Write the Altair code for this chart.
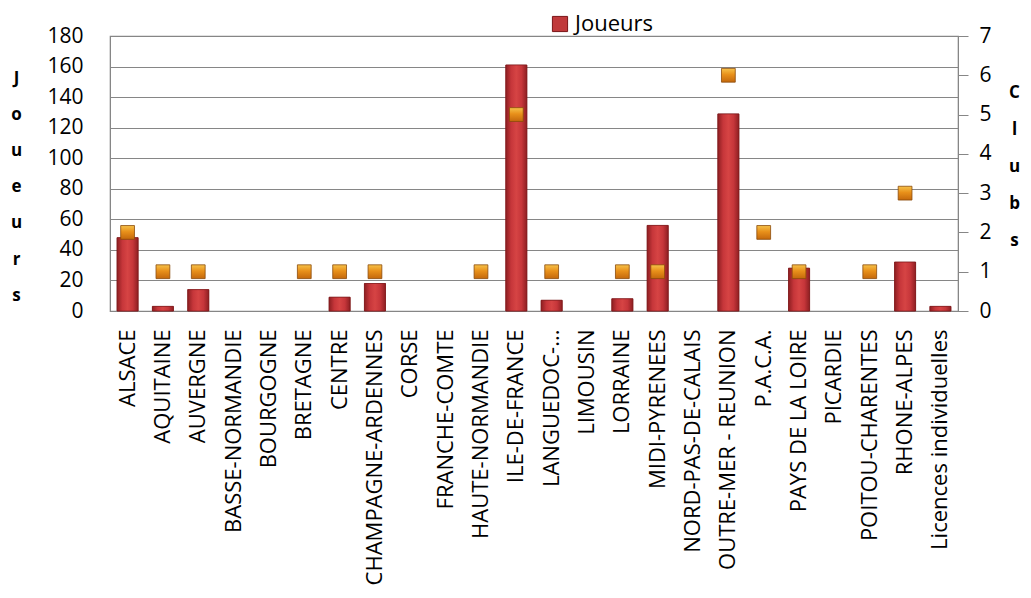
import altair as alt
import pandas as pd

regions = ["ALSACE", "AQUITAINE", "AUVERGNE", "BASSE-NORMANDIE", "BOURGOGNE", "BRETAGNE",
           "CENTRE", "CHAMPAGNE-ARDENNES", "CORSE", "FRANCHE-COMTE", "HAUTE-NORMANDIE",
           "ILE-DE-FRANCE", "LANGUEDOC-...", "LIMOUSIN", "LORRAINE", "MIDI-PYRENEES",
           "NORD-PAS-DE-CALAIS", "OUTRE-MER - REUNION", "P.A.C.A.", "PAYS DE LA LOIRE",
           "PICARDIE", "POITOU-CHARENTES", "RHONE-ALPES", "Licences individuelles"]
joueurs = [48, 3, 14, 0, 0, 0, 9, 18, 0, 0, 0, 161, 7, 0, 8, 56, 0, 129, 0, 28, 0, 0, 32, 3]
clubs = [2, 1, 1, 0, 0, 1, 1, 1, 0, 0, 1, 5, 1, 0, 1, 1, 0, 6, 2, 1, 0, 1, 3, 0]

df = pd.DataFrame({"region": regions, "joueurs": joueurs, "clubs": clubs,
                   "serie": ["Joueurs"] * len(regions)})

FONT = "Open Sans"
GRID = "#868686"

x_enc = alt.X("region:N", sort=regions,
              scale=alt.Scale(domain=regions, paddingInner=0.405, paddingOuter=0.2),
              axis=alt.Axis(title=None, labelAngle=-90, labelFont=FONT, labelFontSize=22,
                            labelColor="#000000", labelLimit=400, labelOverlap=False,
                            labelPadding=18, ticks=False, domainColor=GRID))

y_left = alt.Y("joueurs:Q", scale=alt.Scale(domain=[0, 180], nice=False),
               axis=alt.Axis(values=list(range(0, 181, 20)), grid=True, gridColor=GRID,
                             gridWidth=1.2, ticks=False, labelPadding=27, labelOverlap=False,
                             labelFont=FONT, labelFontSize=21, labelColor="#000000",
                             domainColor=GRID,
                             title=["J", "o", "u", "e", "u", "r", "s"], titleAngle=0,
                             titleX=-94, titleY=47, titleAlign="center",
                             titleBaseline="alphabetic", titleLineHeight=36.2,
                             titleFont=FONT, titleFontSize=17, titleFontWeight="bold",
                             titleColor="#000000"))

base = alt.Chart(df).transform_filter("datum.joueurs > 0").encode(x=x_enc, y=y_left)

bar_base = base.mark_bar(stroke="#7a1518", strokeWidth=0.6).encode(
    color=alt.Color("serie:N", scale=alt.Scale(range=["#C0393B"]),
                    legend=alt.Legend(title=None, orient="none", legendX=439, legendY=-23,
                                      labelFont=FONT, labelFontSize=22, labelColor="#000000",
                                      symbolType="square", symbolSize=230,
                                      symbolStrokeColor="#7a1518", symbolStrokeWidth=1,
                                      padding=0, labelOffset=4)),
)

bar_grad = base.mark_bar(
    color=alt.LinearGradient(
        gradient="linear", x1=0, x2=1, y1=0, y2=0,
        stops=[alt.GradientStop(color="#8E1F22", offset=0),
               alt.GradientStop(color="#C6363A", offset=0.25),
               alt.GradientStop(color="#D64444", offset=0.5),
               alt.GradientStop(color="#C6363A", offset=0.75),
               alt.GradientStop(color="#8E1F22", offset=1)]),
    stroke="#7a1518", strokeWidth=0.6,
)

bars = alt.layer(bar_base, bar_grad)

points = alt.Chart(df).transform_filter("datum.clubs > 0").mark_square(
    size=190, opacity=1, filled=True,
    color=alt.LinearGradient(
        gradient="linear", x1=0, x2=0, y1=0, y2=1,
        stops=[alt.GradientStop(color="#F6C24A", offset=0),
               alt.GradientStop(color="#E8901A", offset=0.45),
               alt.GradientStop(color="#C4680C", offset=1)]),
    stroke="#8A4A0A", strokeWidth=0.8,
).encode(
    x=x_enc,
    y=alt.Y("clubs:Q", scale=alt.Scale(domain=[0, 7], nice=False),
            axis=alt.Axis(orient="right", values=list(range(0, 8)), grid=False,
                          tickSize=10, tickColor=GRID, labelPadding=11, labelOverlap=False,
                          labelFont=FONT, labelFontSize=21, labelColor="#000000",
                          domainColor=GRID,
                          title=["C", "l", "u", "b", "s"], titleAngle=0,
                          titleX=56, titleY=61, titleAlign="center",
                          titleBaseline="alphabetic", titleLineHeight=37,
                          titleFont=FONT, titleFontSize=17, titleFontWeight="bold",
                          titleColor="#000000")),
)

chart = alt.layer(bars, points).resolve_scale(y="independent").properties(
    width=848, height=275,
    autosize=alt.AutoSizeParams(type="none"),
    padding={"left": 102, "top": 28, "right": 65, "bottom": 279},
    background="#ffffff",
).configure_view(stroke=GRID, strokeWidth=1.2)

chart.save("out.html", embed_options={"renderer": "svg", "actions": False})
